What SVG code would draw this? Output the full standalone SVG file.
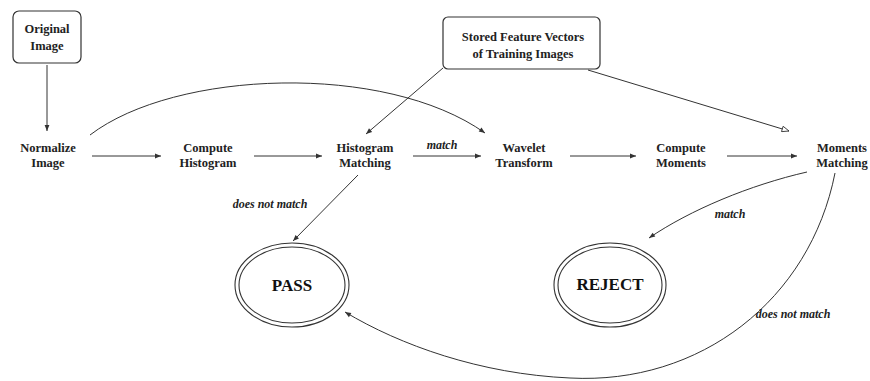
<svg xmlns="http://www.w3.org/2000/svg" width="870" height="381" viewBox="0 0 870 381">
  <style>
    .lbl { font-family: "Liberation Serif", "Times New Roman", serif; font-weight: bold; font-size: 12.5px; fill: #222; text-anchor: middle; }
    .edge-lbl { font-family: "Liberation Serif", "Times New Roman", serif; font-weight: bold; font-style: italic; font-size: 12px; fill: #222; text-anchor: middle; }
    .state { font-family: "Liberation Serif", "Times New Roman", serif; font-weight: bold; font-size: 17px; fill: #111; text-anchor: middle; }
    .box { fill: #fff; stroke: #333; stroke-width: 1.2; }
    .ring { fill: none; stroke: #333; stroke-width: 1.1; }
    .edge { fill: none; stroke: #333; stroke-width: 1; }
  </style>
  <defs>
    <marker id="arrow" viewBox="0 0 10 10" refX="10" refY="5" markerWidth="8" markerHeight="6" markerUnits="userSpaceOnUse" orient="auto">
      <path d="M0,1 L10,5 L0,9 Z" fill="#333"/>
    </marker>
    <marker id="arrow-open" viewBox="0 0 10 10" refX="10" refY="5" markerWidth="9" markerHeight="7" markerUnits="userSpaceOnUse" orient="auto">
      <path d="M0,1 L10,5 L0,9 Z" fill="#fff" stroke="#333" stroke-width="1.2"/>
    </marker>
  </defs>
  <rect width="870" height="381" fill="#fff"/>

  <g id="connectors">
    <path class="edge" d="M47,65 L47,131" marker-end="url(#arrow)"/>
    <path class="edge" d="M92,156 L161,156" marker-end="url(#arrow)"/>
    <path class="edge" d="M254,156 L322,156" marker-end="url(#arrow)"/>
    <path class="edge" d="M413,156 L481,156" marker-end="url(#arrow)"/>
    <path class="edge" d="M570,156 L636,156" marker-end="url(#arrow)"/>
    <path class="edge" d="M727,156 L797,156" marker-end="url(#arrow)"/>
    <path class="edge" d="M90,135 C175,70 385,62 485,133" marker-end="url(#arrow)"/>
    <path class="edge" d="M443,68 L366,134" marker-end="url(#arrow)"/>
    <path class="edge" d="M588,70 L789,131" marker-end="url(#arrow-open)"/>
    <path class="edge" d="M358,175 L293,241" marker-end="url(#arrow)"/>
    <path class="edge" d="M807,172 C750,185 690,210 649,238" marker-end="url(#arrow)"/>
    <path class="edge" d="M835,173 C810,300 700,385 570,378 C480,374 400,345 345,312" marker-end="url(#arrow)"/>
    <text class="edge-lbl" x="442" y="149">match</text>
    <text class="edge-lbl" x="270" y="208">does not match</text>
    <text class="edge-lbl" x="730" y="218">match</text>
    <text class="edge-lbl" x="793" y="318">does not match</text>
  </g>

  <g id="original-image">
    <rect class="box" x="13" y="11" width="68" height="52" rx="6"/>
    <text class="lbl" x="47" y="33">Original</text>
    <text class="lbl" x="47" y="50">Image</text>
  </g>

  <g id="stored-features">
    <rect class="box" x="443" y="17" width="157" height="52" rx="5"/>
    <text class="lbl" x="523" y="41">Stored Feature Vectors</text>
    <text class="lbl" x="523" y="58">of Training Images</text>
  </g>

  <g id="normalize-image">
    <text class="lbl" x="48" y="152">Normalize</text>
    <text class="lbl" x="48" y="167">Image</text>
  </g>

  <g id="compute-histogram">
    <text class="lbl" x="208" y="152">Compute</text>
    <text class="lbl" x="208" y="167">Histogram</text>
  </g>

  <g id="histogram-matching">
    <text class="lbl" x="365" y="152">Histogram</text>
    <text class="lbl" x="365" y="167">Matching</text>
  </g>

  <g id="wavelet-transform">
    <text class="lbl" x="524" y="152">Wavelet</text>
    <text class="lbl" x="524" y="167">Transform</text>
  </g>

  <g id="compute-moments">
    <text class="lbl" x="681" y="152">Compute</text>
    <text class="lbl" x="681" y="167">Moments</text>
  </g>

  <g id="moments-matching">
    <text class="lbl" x="842" y="152">Moments</text>
    <text class="lbl" x="842" y="167">Matching</text>
  </g>

  <g id="pass">
    <ellipse class="ring" cx="292" cy="285" rx="57" ry="42"/>
    <ellipse class="ring" cx="292" cy="285" rx="53" ry="38"/>
    <text class="state" x="292" y="291">PASS</text>
  </g>

  <g id="reject">
    <ellipse class="ring" cx="610" cy="285" rx="56" ry="42"/>
    <ellipse class="ring" cx="610" cy="285" rx="52" ry="38"/>
    <text class="state" x="610" y="290">REJECT</text>
  </g>
</svg>
